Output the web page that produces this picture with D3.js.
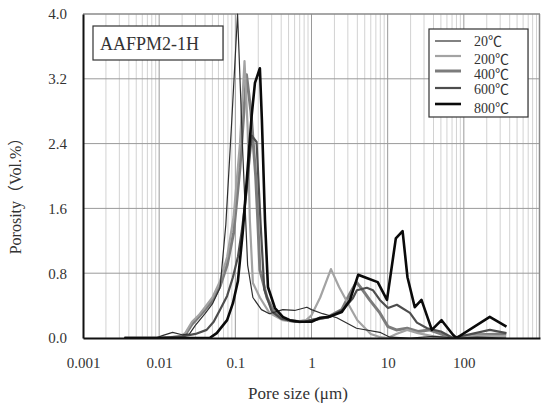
<!DOCTYPE html>
<html>
<head>
<meta charset="utf-8">
<script src="https://cdn.jsdelivr.net/npm/d3@7/dist/d3.min.js"></script>
<style>
  html, body { margin: 0; padding: 0; background: #fff; }
  svg { display: block; }
  text { font-family: "Liberation Serif", "Times New Roman", "Noto Sans CJK SC", serif; }
</style>
</head>
<body>
<svg id="chart" width="541" height="407"></svg>
<script>
// Pore size distribution (mercury intrusion), sample AAFPM2-1H, after heating
const yTicks = [0.0, 0.8, 1.6, 2.4, 3.2, 4.0];
const xTicks = [0.001, 0.01, 0.1, 1, 10, 100];
const seriesNames = ["20℃", "200℃", "400℃", "600℃", "800℃"];

// pore size (µm) and porosity (Vol.%) per temperature
const size20 = [0.0035, 0.006, 0.009, 0.011, 0.015, 0.02, 0.025, 0.03, 0.04, 0.05, 0.063, 0.075, 0.09, 0.107, 0.125, 0.145, 0.17, 0.22, 0.28, 0.42, 0.6, 0.87, 1.0, 1.4, 2.15, 3.9, 7.9, 10.7, 20, 40, 80, 150, 360];
const por20  = [0, 0, 0, 0.03, 0.07, 0.04, 0.05, 0.16, 0.3, 0.42, 0.62, 1.4, 2.7, 4.0, 2.3, 0.9, 0.5, 0.35, 0.3, 0.35, 0.34, 0.38, 0.35, 0.3, 0.25, 0.12, 0.07, 0.01, 0.0, 0.02, 0.0, 0.01, 0.0];

const size200 = [0.0035, 0.01, 0.018, 0.022, 0.027, 0.033, 0.04, 0.05, 0.063, 0.078, 0.095, 0.115, 0.132, 0.145, 0.155, 0.17, 0.21, 0.28, 0.42, 0.6, 0.85, 1.0, 1.3, 1.8, 2.3, 3.0, 4.0, 6, 8, 10, 13, 18, 25, 40, 70, 150, 360];
const por200  = [0, 0, 0.02, 0.06, 0.2, 0.28, 0.38, 0.5, 0.7, 1.0, 1.5, 2.4, 3.42, 2.6, 1.46, 0.68, 0.5, 0.31, 0.22, 0.2, 0.22, 0.28, 0.5, 0.85, 0.63, 0.43, 0.22, 0.05, 0.01, 0.0, 0.05, 0.1, 0.06, 0.02, 0.0, 0.03, 0.02];

const size400 = [0.0035, 0.01, 0.018, 0.022, 0.027, 0.033, 0.04, 0.05, 0.063, 0.078, 0.095, 0.115, 0.14, 0.16, 0.185, 0.197, 0.21, 0.26, 0.31, 0.38, 0.5, 0.7, 1.0, 1.3, 1.66, 2.5, 3.2, 3.9, 4.7, 5.8, 7.9, 10.1, 13, 18, 25, 35, 50, 70, 150, 360];
const por400  = [0, 0, 0.01, 0.04, 0.17, 0.26, 0.35, 0.46, 0.64, 0.9, 1.3, 2.1, 3.25, 2.8, 2.0, 1.46, 0.84, 0.5, 0.35, 0.26, 0.22, 0.2, 0.22, 0.24, 0.26, 0.35, 0.55, 0.69, 0.59, 0.47, 0.31, 0.14, 0.1, 0.12, 0.08, 0.1, 0.05, 0.0, 0.04, 0.05];

const size600 = [0.0035, 0.01, 0.02, 0.03, 0.042, 0.052, 0.063, 0.078, 0.093, 0.108, 0.122, 0.14, 0.164, 0.19, 0.215, 0.24, 0.3, 0.4, 0.6, 0.8, 1.0, 1.3, 1.74, 2.58, 3.49, 3.94, 5.33, 6.4, 7.9, 10.1, 13.2, 19.6, 24.2, 33, 50, 72, 220, 363];
const por600  = [0, 0, 0.02, 0.05, 0.1, 0.2, 0.35, 0.52, 0.75, 1.0, 1.33, 1.8, 2.5, 2.42, 1.4, 0.6, 0.33, 0.24, 0.2, 0.2, 0.22, 0.24, 0.26, 0.35, 0.49, 0.59, 0.62, 0.59, 0.47, 0.37, 0.41, 0.31, 0.19, 0.12, 0.08, 0.0, 0.1, 0.06];

const size800 = [0.0035, 0.03, 0.046, 0.057, 0.078, 0.093, 0.108, 0.125, 0.14, 0.164, 0.181, 0.21, 0.223, 0.245, 0.268, 0.331, 0.42, 0.52, 0.7, 1.0, 1.3, 1.66, 2.5, 3.2, 4.1, 5.3, 7.4, 9.8, 12.8, 15.7, 18.2, 22.7, 27.8, 38, 51, 72, 80, 219, 363];
const por800  = [0, 0, 0, 0.06, 0.22, 0.43, 0.7, 1.3, 1.9, 2.75, 3.15, 3.33, 2.7, 1.46, 0.63, 0.37, 0.26, 0.22, 0.2, 0.2, 0.25, 0.26, 0.32, 0.47, 0.78, 0.74, 0.69, 0.47, 1.23, 1.32, 0.75, 0.38, 0.47, 0.1, 0.22, 0.04, 0.0, 0.26, 0.14];

const series = [
  { name: seriesNames[0], sizes: size20,  values: por20,  color: "#2e2e2e", width: 1.2 },
  { name: seriesNames[1], sizes: size200, values: por200, color: "#a3a3a3", width: 2.2 },
  { name: seriesNames[2], sizes: size400, values: por400, color: "#7c7c7c", width: 3 },
  { name: seriesNames[3], sizes: size600, values: por600, color: "#4d4d4d", width: 2.2 },
  { name: seriesNames[4], sizes: size800, values: por800, color: "#0a0a0a", width: 2.6 }
];

const svg = d3.select("#chart");
const L = 83, R = 540, T = 14, B = 338;

const x = d3.scaleLog().domain([0.001, 1000]).range([L, R]);
const y = d3.scaleLinear().domain([0, 4]).range([B, T]);

// minor + major vertical grid
const allX = x.ticks(60).filter(v => v > 0.001 && v < 1000);
const isMajor = v => Math.abs(Math.log10(v) - Math.round(Math.log10(v))) < 1e-6;
svg.append("g").selectAll("line").data(allX.filter(v => !isMajor(v))).join("line")
  .attr("x1", d => x(d)).attr("x2", d => x(d)).attr("y1", T).attr("y2", B)
  .attr("stroke", "#d2d2d2").attr("stroke-width", 1);
svg.append("g").selectAll("line").data(allX.filter(isMajor)).join("line")
  .attr("x1", d => x(d)).attr("x2", d => x(d)).attr("y1", T).attr("y2", B)
  .attr("stroke", "#9a9a9a").attr("stroke-width", 1);
// horizontal grid
svg.append("g").selectAll("line").data(yTicks.filter(v => v > 0 && v < 4)).join("line")
  .attr("x1", L).attr("x2", R).attr("y1", d => y(d)).attr("y2", d => y(d))
  .attr("stroke", "#9a9a9a").attr("stroke-width", 1);
// frame top/right
svg.append("line").attr("x1", L).attr("x2", R).attr("y1", T).attr("y2", T)
  .attr("stroke", "#8a8a8a").attr("stroke-width", 1.5);
svg.append("line").attr("x1", R - 0.5).attr("x2", R - 0.5).attr("y1", T).attr("y2", B)
  .attr("stroke", "#8a8a8a").attr("stroke-width", 1.5);

// curves
const line = d3.line().x(d => x(d[0])).y(d => y(d[1]));
const drawOrder = [2, 1, 3, 0, 4];
const clipId = "plotclip";
svg.append("clipPath").attr("id", clipId).append("rect")
  .attr("x", L).attr("y", T - 2).attr("width", R - L).attr("height", B - T + 2);
const curves = svg.append("g").attr("clip-path", `url(#${clipId})`);
drawOrder.forEach(i => {
  const s = series[i];
  curves.append("path")
    .datum(d3.zip(s.sizes, s.values))
    .attr("d", line)
    .attr("fill", "none")
    .attr("stroke", s.color)
    .attr("stroke-width", s.width)
    .attr("stroke-linejoin", "round");
});

// axes
const yAxis = d3.axisLeft(y).tickValues(yTicks).tickFormat(d3.format(".1f")).tickSize(0).tickPadding(16);
const gy = svg.append("g").attr("transform", `translate(${L},0)`).call(yAxis);
gy.select(".domain").attr("stroke", "#111").attr("stroke-width", 2);
gy.selectAll("text").attr("font-size", 15).attr("fill", "#333")
  .style("font-family", "'Liberation Serif', serif");

const xAxis = d3.axisBottom(x).tickValues(xTicks).tickFormat(d => String(d)).tickSize(0).tickPadding(19);
const gx = svg.append("g").attr("transform", `translate(0,${B})`).call(xAxis);
gx.select(".domain").attr("stroke", "#111").attr("stroke-width", 2.2);
gx.selectAll("text").attr("font-size", 15).attr("fill", "#333")
  .style("font-family", "'Liberation Serif', serif");

// axis titles
svg.append("text").attr("x", 298).attr("y", 399).attr("text-anchor", "middle")
  .attr("font-size", 17).attr("fill", "#333").text("Pore size (μm)");
svg.append("text").attr("transform", "translate(21,192) rotate(-90)").attr("text-anchor", "middle")
  .attr("font-size", 16).attr("fill", "#333").text("Porosity（Vol.%）");

// sample label
svg.append("rect").attr("x", 93).attr("y", 26).attr("width", 130).attr("height", 34)
  .attr("fill", "#fff").attr("stroke", "#333").attr("stroke-width", 1.2);
svg.append("text").attr("x", 100).attr("y", 50).attr("font-size", 18).attr("fill", "#333").text("AAFPM2-1H");

// legend
const leg = svg.append("g");
leg.append("rect").attr("x", 429).attr("y", 29).attr("width", 99).attr("height", 88)
  .attr("fill", "#fff").attr("stroke", "#333").attr("stroke-width", 1.2);
const lineY = [41, 56, 71, 88, 104];
const textY = [46, 64, 79, 94, 113];
series.forEach((s, i) => {
  leg.append("line").attr("x1", 435).attr("x2", 461).attr("y1", lineY[i]).attr("y2", lineY[i])
    .attr("stroke", s.color).attr("stroke-width", s.width);
  leg.append("text").attr("x", 474).attr("y", textY[i]).attr("font-size", 14).attr("fill", "#333").text(s.name);
});
</script>
</body>
</html>
